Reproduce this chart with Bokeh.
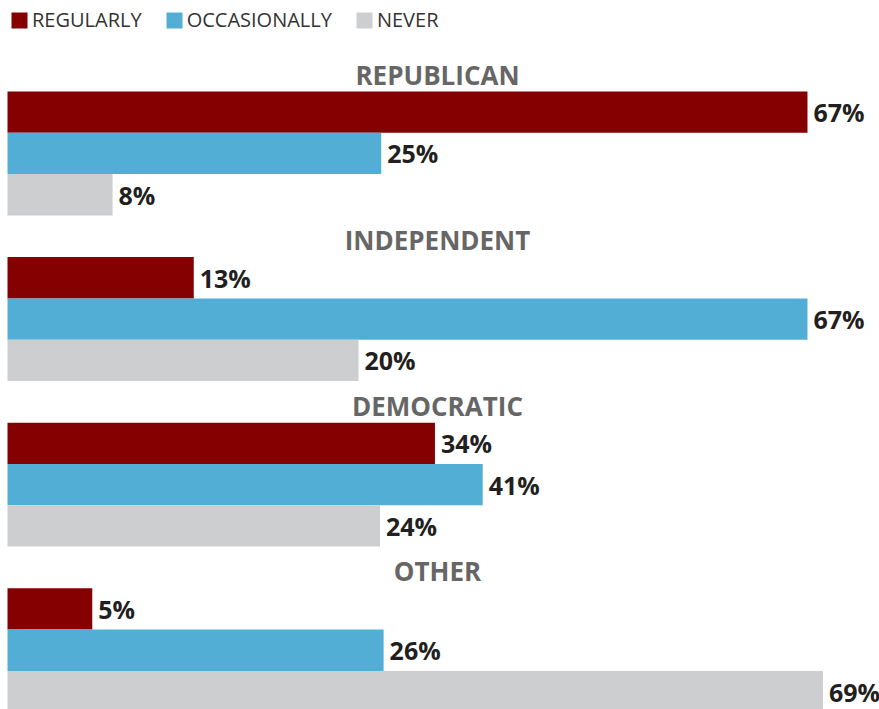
from bokeh.plotting import figure
from bokeh.models import Range1d, ColumnDataSource, Legend, LegendItem
from bokeh.core.properties import value
from bokeh.embed import file_html
from bokeh.resources import INLINE

groups = ["REPUBLICAN", "INDEPENDENT", "DEMOCRATIC", "OTHER"]
series = ["REGULARLY", "OCCASIONALLY", "NEVER"]
colors = ["#850000", "#52aed5", "#cdced0"]

# printed percentages
regularly = [67, 13, 34, 5]
occasionally = [25, 67, 41, 26]
never = [8, 20, 24, 69]

# bar lengths as drawn in the picture (same % scale)
regularly_len = [67, 15.6, 35.8, 7.1]
occasionally_len = [31.3, 67, 39.8, 31.5]
never_len = [8.8, 29.4, 31.2, 68.3]

values = [regularly, occasionally, never]
lengths = [regularly_len, occasionally_len, never_len]

W, H = 879, 709
PX_PER_UNIT = 11.94
LEFT = 7
x_start = -LEFT / PX_PER_UNIT
x_end = (W - LEFT) / PX_PER_UNIT

p = figure(width=W, height=H, output_backend="svg", toolbar_location=None,
           x_range=Range1d(x_start, x_end), y_range=Range1d(H, 0),
           min_border=0, min_border_left=0, min_border_right=0,
           min_border_top=0, min_border_bottom=0)
p.axis.visible = False
p.grid.visible = False
p.outline_line_color = None
p.background_fill_color = "white"
p.border_fill_color = "white"

GROUP_TOP = 91
GROUP_STEP = 165.6
BAR_H = 41.3

renderers = []
for k, name in enumerate(series):
    ys = [GROUP_TOP + g * GROUP_STEP + k * BAR_H + BAR_H / 2 for g in range(len(groups))]
    src = ColumnDataSource(dict(
        y=ys,
        right=lengths[k],
        label=[f"{v}%" for v in values[k]],
    ))
    r = p.hbar(y="y", left=0, right="right", height=BAR_H, source=src,
               fill_color=colors[k], line_color=None)
    renderers.append(r)
    p.text(x="right", y="y", text="label", source=src,
           x_offset=6, text_baseline="middle", text_align="left",
           text_font=value("Open Sans"), text_font_style="bold",
           text_font_size="25px", text_color="#231f20")

title_src = ColumnDataSource(dict(
    x=[(437 - LEFT) / PX_PER_UNIT] * len(groups),
    y=[GROUP_TOP + g * GROUP_STEP - 17 for g in range(len(groups))],
    t=groups,
))
p.text(x="x", y="y", text="t", source=title_src, text_align="center",
       text_baseline="alphabetic", text_font=value("Open Sans"),
       text_font_style="bold", text_font_size="26px", text_color="#666666")

legend = Legend(items=[LegendItem(label=s, renderers=[r]) for s, r in zip(series, renderers)],
                orientation="horizontal", location=(9, H - 13 - 20),
                glyph_width=20, glyph_height=20, label_standoff=3, spacing=22,
                padding=0, margin=0, label_height=20,
                label_text_font="Open Sans", label_text_font_size="20px",
                label_text_color="#333333", label_text_baseline="middle",
                border_line_color=None, background_fill_alpha=0)
p.add_layout(legend, "center")

open("out.html", "w").write(file_html(p, INLINE))
